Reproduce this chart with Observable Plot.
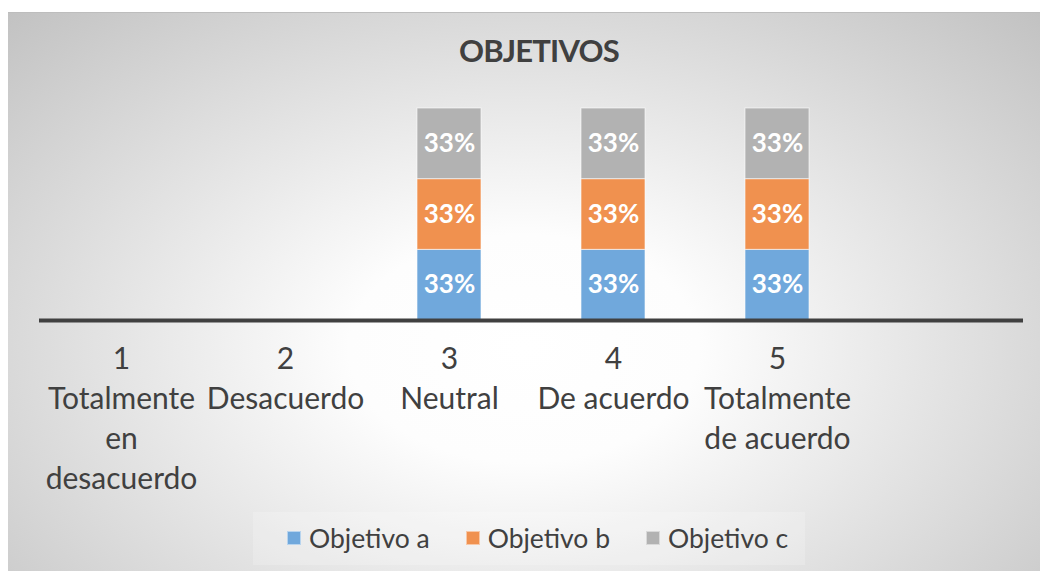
<!DOCTYPE html>
<html>
<head>
<meta charset="utf-8">
<script src="https://cdn.jsdelivr.net/npm/d3@7"></script>
<script src="https://cdn.jsdelivr.net/npm/@observablehq/plot@0.6"></script>
<style>
  html, body { margin: 0; padding: 0; background: #ffffff; }
  #wrap { position: relative; width: 1040px; height: 571px; overflow: hidden; font-family: Lato, "Open Sans", sans-serif; }
  #bg { position: absolute; left: 8px; top: 12px; width: 1032px; height: 559px;
        background: radial-gradient(ellipse farthest-corner at 50% 60%, #ffffff 0%, #fdfdfd 24%, #c2c2c2 100%);
        border-top: 1px solid #bdbdbd; }
  #title { position: absolute; left: 0; width: 1078px; top: 31px; text-align: center;
           font-weight: bold; font-size: 31px; color: #404040; letter-spacing: -0.8px; }
  #plot { position: absolute; left: 0; top: 0; }
  #legendbox { position: absolute; left: 253px; top: 512px; width: 552px; height: 53px; background: rgba(255,255,255,0.2); }
  #legend { position: absolute; left: 287px; top: 521px; display: flex; align-items: center; height: 34px; }
  .item { display: flex; align-items: center; margin-right: 36px; font-size: 26.5px; color: #404040; }
  .sw { width: 14px; height: 14px; margin-right: 8px; box-sizing: border-box; border: 1px solid rgba(255,255,255,0.5); }
</style>
</head>
<body>
<div id="wrap">
  <div id="bg"></div>
  <div id="title"></div>
  <div id="legendbox"></div>
  <div id="plot"></div>
  <div id="legend"></div>
</div>
<script>
const title = "OBJETIVOS";
const categories = ["1", "2", "3", "4", "5", "6"];
const categoryLabels = ["1\nTotalmente\nen\ndesacuerdo", "2\nDesacuerdo", "3\nNeutral", "4\nDe acuerdo", "5\nTotalmente\nde acuerdo", ""];
const seriesNames = ["Objetivo a", "Objetivo b", "Objetivo c"];
const seriesColors = ["#70a8dc", "#f0914f", "#b2b2b2"];
const objetivoA = [0, 0, 1, 1, 1, 0];
const objetivoB = [0, 0, 1, 1, 1, 0];
const objetivoC = [0, 0, 1, 1, 1, 0];

const seriesValues = [objetivoA, objetivoB, objetivoC];
const totals = categories.map((c, i) => d3.sum(seriesValues, s => s[i]));
const rows = [];
seriesNames.forEach((name, si) => {
  categories.forEach((cat, ci) => {
    const v = seriesValues[si][ci];
    if (v > 0) rows.push({cat, series: name, value: v, share: v / totals[ci]});
  });
});
const labelOf = new Map(categories.map((c, i) => [c, categoryLabels[i]]));
const pct = d3.format(".0%");

document.getElementById("title").textContent = title;

const chart = Plot.plot({
  width: 1040,
  height: 571,
  marginLeft: 39,
  marginRight: 17,
  marginTop: 108,
  marginBottom: 251,
  style: {background: "transparent", fontFamily: "Lato, 'Open Sans', sans-serif", overflow: "visible"},
  x: {domain: categories, paddingInner: 0.61, paddingOuter: 0.305, axis: null},
  y: {domain: [0, 1], axis: null},
  color: {domain: seriesNames, range: seriesColors},
  marks: [
    Plot.barY(rows, Plot.stackY({x: "cat", y: "value", z: "series", fill: "series", offset: "normalize",
      stroke: "#ffffff", strokeOpacity: 0.6, strokeWidth: 1})),
    Plot.text(rows, Plot.stackY({x: "cat", y: "value", z: "series", offset: "normalize",
      text: d => pct(d.share), fill: "#ffffff", fontWeight: "bold", fontSize: 26})),
    Plot.ruleY([0], {stroke: "#404040", strokeWidth: 4}),
    Plot.axisX({tickSize: 0, tickPadding: 20, tickFormat: d => labelOf.get(d), fontSize: 30,
      lineHeight: 1.33, fill: "#404040", lineAnchor: "top", label: null})
  ]
});
document.getElementById("plot").appendChild(chart);

const legend = document.getElementById("legend");
seriesNames.forEach((name, i) => {
  const it = document.createElement("div");
  it.className = "item";
  const sw = document.createElement("div");
  sw.className = "sw";
  sw.style.background = seriesColors[i];
  const tx = document.createElement("span");
  tx.textContent = name;
  it.appendChild(sw);
  it.appendChild(tx);
  legend.appendChild(it);
});
</script>
</body>
</html>
